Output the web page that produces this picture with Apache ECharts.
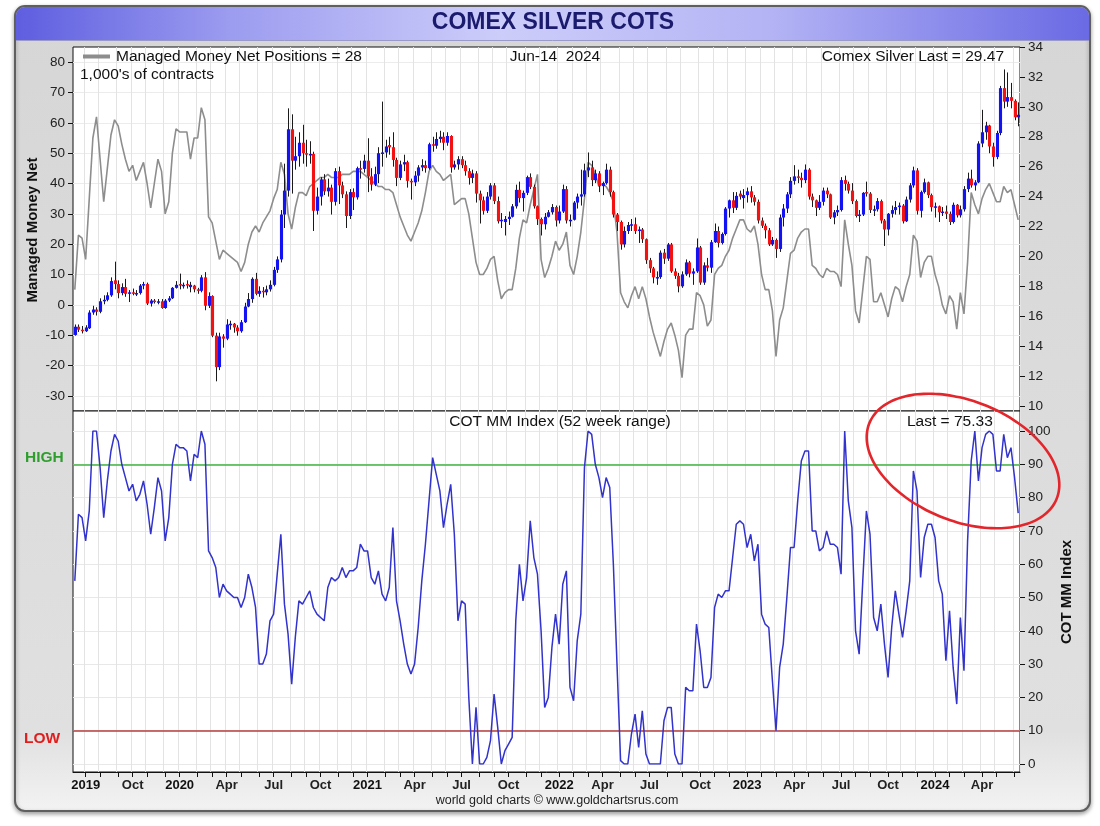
<!DOCTYPE html>
<html><head><meta charset="utf-8">
<script src="https://cdn.jsdelivr.net/npm/echarts@6/dist/echarts.min.js"></script>
<style>html,body{margin:0;padding:0;background:#fff;}#c{width:1100px;height:826px;}</style>
</head><body><div id="c"></div>
<script>
// ---------- data (weekly, first week ending 2019-06-14) ----------
const firstWeekUTC = Date.UTC(2019, 5, 14);
const MONTHS = ['Jan','Feb','Mar','Apr','May','Jun','Jul','Aug','Sep','Oct','Nov','Dec'];

// Managed money net positions, 1,000's of contracts (left axis, grey line)
const mmNet = [
 5,23,22,15,35,55,62,48,34,45,
 56,61,59,53,48,44,46,41,44,47,
 40,32,40,48,44,30,34,50,58,57,
 57,57,48,55,55,65,61,29,27,21,
 15,18,17,16,15,14,11,14,20,24,
 26,24,27,29,31,35,38,47,43,30,
 25,32,37,37,36,39,40,41,42,42,
 43,42,42,42,43,43,43,44,44,44,
 43,42,41,40,39,39,38,38,37,33,
 29,26,23,21,24,27,31,37,44,46,
 44,43,41,42,43,33,34,35,35,30,
 22,14,10,10,12,15,16,8,2,4,
 5,5,12,22,28,27,33,38,43,15,
 9,12,16,21,18,20,24,13,10,16,
 24,35,47,46,43,39,40,39,37,34,
 24,4,1,-1,3,6,2,6,2,-4,
 -9,-13,-17,-12,-8,-6,-10,-15,-24,-10,
 -8,-8,4,3,0,-7,-5,10,12,13,
 16,18,22,25,28,28,25,24,26,20,
 10,5,5,-2,-17,-5,-1,8,17,18,
 22,24,25,25,13,12,10,9,12,11,
 11,10,6,28,20,13,-2,-6,5,16,
 15,1,1,4,0,-4,2,6,5,1,
 6,10,23,21,9,14,16,16,10,6,
 0,-3,3,1,-8,4,-3,14,37,33,
 30,35,38,40,37,34,34,39,37,38,
 33,28
];

// COT managed-money index, 52 week range (bottom panel)
const cotIndex = [
 55,75,74,67,76,100,100,89,74,85,
 94,99,97,90,86,82,84,79,81,85,
 78,69,77,86,82,67,74,90,96,95,
 95,94,85,93,92,100,96,64,62,59,
 50,54,52,51,50,50,47,50,57,53,
 47,30,30,33,43,45,57,69,48,39,
 24,38,49,48,50,52,47,45,44,43,
 53,56,55,56,59,56,58,58,59,66,
 64,64,56,54,58,51,49,53,71,49,
 43,36,30,27,30,41,55,66,79,92,
 87,82,71,78,84,69,43,49,48,20,
 0,17,0,0,2,7,21,11,0,4,
 6,8,43,60,49,56,73,62,57,40,
 17,20,35,45,36,54,58,23,19,37,
 45,89,100,99,90,86,80,86,83,60,
 30,1,0,0,9,15,5,16,3,0,
 0,0,0,13,17,17,3,0,0,23,
 22,22,42,34,23,23,26,47,51,50,
 52,52,62,72,73,72,65,69,61,66,
 45,42,41,25,10,29,36,50,65,65,
 79,91,94,94,70,70,64,65,70,66,
 66,65,57,100,79,71,40,33,55,76,
 69,44,40,48,36,26,41,52,45,38,
 46,55,88,82,56,68,72,72,68,55,
 51,31,46,29,18,44,28,67,91,100,
 85,95,99,100,99,88,88,99,92,95,
 86,75.33
];

// Comex silver weekly candles [open, close, low, high] (right axis)
const silverOHLC = [
[14.75,15.30,14.70,15.45],[15.30,15.10,14.95,15.45],[15.10,15.00,14.85,15.35],[15.00,15.25,14.95,15.40],[15.20,16.25,15.15,16.40],
[16.25,16.45,16.10,16.70],[16.45,16.30,16.05,16.60],[16.30,17.00,16.20,17.20],[17.00,17.10,16.80,17.40],[17.10,17.40,17.00,17.60],
[17.40,18.35,17.30,18.60],[18.40,18.15,17.80,19.65],[18.15,17.55,17.20,18.40],[17.55,17.95,17.40,18.20],[17.95,17.50,17.30,18.50],
[17.50,17.60,16.95,17.75],[17.60,17.55,17.40,17.85],[17.50,17.55,17.35,17.75],[17.55,18.05,17.45,18.15],[18.05,18.15,17.80,18.30],
[18.15,16.85,16.75,18.25],[16.85,17.05,16.65,17.15],[17.05,16.95,16.85,17.15],[16.95,17.00,16.80,17.15],[17.00,16.55,16.50,17.15],
[16.55,17.05,16.50,17.15],[17.05,17.20,16.95,17.35],[17.20,17.90,17.15,17.95],[17.90,18.10,17.85,18.35],[18.15,18.05,17.80,18.85],
[18.00,18.10,17.85,18.25],[18.15,18.05,17.85,18.40],[17.95,18.10,17.60,18.30],[18.05,17.80,17.60,18.10],[17.80,17.70,17.50,17.90],
[17.70,18.60,17.60,18.75],[18.60,16.70,16.40,18.95],[16.70,17.35,16.55,17.60],[17.35,14.70,14.60,17.40],[14.70,12.60,11.65,14.90],
[12.60,14.65,12.40,14.90],[14.65,14.50,13.90,14.80],[14.50,15.45,14.40,15.80],[15.45,15.50,15.10,15.70],[15.50,15.25,14.90,15.55],
[15.25,15.00,14.70,15.40],[15.00,15.60,14.90,15.75],[15.60,16.65,15.55,16.90],[16.65,17.15,16.60,17.55],[17.15,18.50,16.90,18.60],
[18.50,17.50,17.40,18.90],[17.50,17.70,17.30,18.00],[17.70,17.60,17.25,17.95],[17.60,17.80,17.40,18.05],[17.80,18.10,17.65,18.40],
[18.10,19.10,18.00,19.30],[19.10,19.80,18.90,20.00],[19.80,22.80,19.60,23.10],[22.80,24.40,21.90,26.20],[24.40,28.50,24.00,29.90],
[28.50,26.40,24.20,29.50],[26.40,26.70,25.80,28.00],[26.70,27.60,26.00,28.30],[27.60,26.90,26.20,28.80],[26.90,26.80,26.00,27.80],
[26.75,26.85,26.20,27.70],[26.85,23.05,21.70,27.00],[23.05,24.00,22.80,24.60],[24.00,25.15,23.40,25.30],[25.15,24.35,24.10,25.50],
[24.35,24.60,24.00,25.20],[24.60,23.65,22.80,24.80],[23.65,25.70,23.40,25.90],[25.70,24.75,23.50,26.00],[24.75,24.15,23.90,25.00],
[24.15,22.70,21.90,24.35],[22.70,24.30,22.50,24.50],[24.30,23.95,23.10,24.55],[23.95,25.90,23.80,26.00],[25.90,25.85,25.20,26.40],
[25.85,26.40,25.60,26.80],[26.40,25.35,24.30,27.90],[25.35,24.80,24.40,25.90],[24.80,25.50,24.70,26.00],[25.50,26.90,24.90,27.30],
[26.90,26.95,26.00,30.35],[26.95,27.35,26.60,27.80],[27.45,27.30,26.80,28.00],[27.30,26.45,26.00,28.30],[26.45,25.25,24.70,26.60],
[25.25,26.15,25.10,26.40],[26.15,26.30,25.70,26.80],[26.30,25.05,24.60,26.40],[25.05,24.95,23.80,25.20],[24.95,25.40,24.70,25.70],
[25.40,25.95,25.00,26.10],[25.95,26.10,25.70,26.50],[26.10,25.90,25.60,26.40],[25.90,27.50,25.80,27.60],[27.50,27.40,27.00,28.00],
[27.40,27.85,27.20,28.30],[27.85,28.00,27.60,28.40],[28.00,27.60,27.10,28.30],[27.60,28.05,27.40,28.30],[28.05,25.95,25.60,28.10],
[25.95,26.15,25.80,26.40],[26.15,26.50,25.80,26.70],[26.50,26.10,25.90,26.70],[26.10,25.70,25.40,26.40],[25.70,25.25,24.80,25.90],
[25.25,25.55,24.90,25.80],[25.55,24.20,23.60,25.70],[24.20,23.75,22.20,24.40],[23.75,23.05,22.80,24.00],[23.05,24.00,22.90,24.30],
[24.00,24.75,23.80,24.90],[24.75,23.70,23.50,24.90],[23.70,22.35,22.20,24.00],[22.35,22.45,21.90,22.90],[22.30,22.50,21.40,22.70],
[22.50,22.65,22.10,23.00],[22.65,23.35,22.60,23.50],[23.35,24.45,23.20,24.80],[24.45,23.90,23.60,25.00],[23.90,24.25,23.00,24.40],
[24.25,25.30,24.10,25.40],[25.30,24.65,24.50,25.55],[24.65,23.35,23.20,24.80],[23.35,22.50,22.10,23.40],[22.50,22.15,21.40,22.60],
[22.15,22.65,21.80,22.90],[22.65,22.95,22.60,23.10],[22.95,23.30,22.80,23.50],[23.30,22.40,22.00,23.40],[22.40,23.00,22.20,23.40],
[23.00,24.50,22.90,24.80],[24.50,22.40,22.20,24.70],[22.40,22.45,22.00,22.80],[22.45,23.60,22.40,23.70],[23.60,24.00,23.20,24.20],
[24.00,24.15,23.40,25.80],[24.15,25.75,24.00,26.20],[25.75,25.95,25.30,26.95],[25.95,25.10,24.70,26.40],[25.10,25.55,24.90,25.80],
[25.55,24.70,24.30,25.70],[24.70,24.90,24.10,25.00],[24.90,25.80,24.80,26.20],[25.80,24.30,24.00,26.00],[24.30,22.80,22.60,24.40],
[22.80,22.30,21.70,22.90],[22.30,20.80,20.45,22.40],[20.80,21.70,20.60,22.00],[21.70,22.10,21.50,22.30],[22.10,22.15,21.70,22.50],
[22.15,21.70,21.50,22.60],[21.70,21.80,20.90,22.00],[21.80,21.15,20.90,21.90],[21.15,19.75,19.50,21.20],[19.75,19.20,18.90,19.90],
[19.20,18.60,18.20,19.30],[18.55,18.62,18.10,19.00],[18.62,20.25,18.50,20.40],[20.25,19.85,19.50,20.50],[19.85,20.80,19.70,20.90],
[20.80,19.00,18.90,20.90],[19.00,18.70,18.50,19.20],[18.70,18.00,17.60,18.90],[18.00,18.80,17.90,19.00],[18.80,19.60,18.70,19.80],
[19.60,18.85,18.60,19.70],[18.85,19.00,18.10,19.20],[19.00,20.60,18.90,21.20],[20.60,18.25,18.10,20.70],[18.25,19.40,18.10,19.60],
[19.40,19.25,19.00,19.90],[19.25,20.95,18.90,21.10],[20.95,21.70,20.90,22.20],[21.70,20.90,20.60,22.00],[20.90,21.50,20.80,21.60],
[21.50,23.20,21.40,23.30],[23.20,23.75,22.60,23.80],[23.75,23.25,22.90,24.30],[23.25,24.05,23.10,24.30],[24.20,24.00,23.80,24.40],
[23.90,24.10,23.20,24.50],[24.10,24.35,23.60,24.60],[24.35,23.95,23.60,24.70],[23.95,23.65,23.40,24.10],[23.65,22.40,22.20,23.80],
[22.40,22.05,21.90,22.60],[22.05,21.75,21.20,22.20],[21.75,20.80,20.70,21.90],[20.80,21.10,20.70,21.30],[21.10,20.50,19.90,21.20],
[20.50,22.60,20.30,22.80],[22.60,23.20,22.00,23.50],[23.20,24.15,22.90,24.30],[24.15,25.05,23.90,25.30],[25.05,25.35,24.80,26.10],
[25.35,25.25,24.90,25.80],[25.25,25.10,24.60,25.60],[25.10,25.80,24.90,26.15],[25.80,24.00,23.80,25.90],[24.00,23.75,23.30,24.20],
[23.75,23.25,22.70,23.80],[23.25,23.65,23.10,24.10],[23.65,24.40,23.40,24.60],[24.40,24.15,23.90,24.60],[24.15,22.60,22.50,24.20],
[22.60,22.95,22.15,23.10],[22.95,23.10,22.70,23.40],[23.10,25.10,23.00,25.30],[25.10,24.85,24.40,25.40],[24.85,24.40,24.20,25.00],
[24.40,23.70,23.50,24.90],[23.70,22.70,22.60,23.80],[22.70,22.80,22.30,23.10],[22.80,24.25,22.70,24.30],[24.30,24.20,24.00,25.00],
[24.20,23.10,22.90,24.30],[23.10,23.15,22.70,23.40],[23.15,23.70,23.00,23.90],[23.70,22.40,22.20,23.80],[22.40,21.80,20.70,22.50],
[21.80,22.85,21.40,22.90],[22.85,23.10,22.60,23.40],[23.10,23.30,22.80,23.70],[23.30,23.40,22.80,23.60],[23.40,22.35,22.20,23.50],
[22.35,23.80,22.30,24.00],[23.80,24.75,23.60,24.90],[24.75,25.75,24.60,26.00],[25.75,23.05,22.80,25.90],[23.05,24.30,22.60,24.40],
[24.30,24.95,24.20,25.20],[24.95,24.10,23.90,25.00],[24.10,23.30,23.00,24.20],[23.30,23.35,22.60,23.60],[23.35,22.95,22.30,23.40],
[22.95,23.00,22.70,23.30],[23.00,22.85,22.50,23.40],[22.85,22.30,22.10,23.00],[22.30,23.45,22.20,23.60],[23.45,22.75,22.60,23.50],
[22.75,23.15,22.60,23.40],[23.15,24.50,23.00,24.70],[24.50,25.20,24.30,25.60],[25.20,24.75,24.60,25.80],[24.75,24.95,24.40,25.10],
[24.95,27.55,24.90,27.70],[27.55,28.30,27.30,29.80],[28.30,28.75,27.80,29.00],[28.75,27.35,26.90,28.80],[27.35,26.65,26.00,27.60],
[26.65,28.25,26.50,28.40],[28.25,31.25,28.10,31.40],[31.25,30.35,29.90,32.50],[30.35,30.65,30.00,32.30],[30.65,30.40,29.90,31.60],
[30.40,29.30,29.10,30.50],[29.30,29.47,28.70,30.30]
];

const leftTicks = [-30,-20,-10,0,10,20,30,40,50,60,70,80];
const highLevel = 90, lowLevel = 10;

// ---------- derived categories ----------
const dates = [];
for (let i = 0; i < silverOHLC.length; i++) dates.push(new Date(firstWeekUTC + i * 7 * 864e5).toISOString().slice(0, 10));
const dayOf = s => +s.slice(8, 10), monOf = s => +s.slice(5, 7), yearOf = s => s.slice(0, 4);
const isMonthStart = i => dayOf(dates[i]) <= 7;
const isQuarterStart = i => isMonthStart(i) && (monOf(dates[i]) - 1) % 3 === 0;
const firstQ = dates.findIndex((d, i) => isQuarterStart(i));
const candleData = silverOHLC.map((d, i) => [i, d[0], d[1], d[2], d[3]]);
const lastDate = new Date(firstWeekUTC + (dates.length - 1) * 7 * 864e5);

const FONT = '"Liberation Sans", Arial, Helvetica, sans-serif';
const GL = 73, GW = 947;

// ellipse annotation (decoration)
const ellPts = [];
(function () {
  const cx = 963, cy = 461, a = 101, b = 60, th = 22 * Math.PI / 180;
  for (let k = 0; k <= 90; k++) {
    const t = -2.2 + k / 90 * 2 * Math.PI * 1.03;
    ellPts.push([cx + a * Math.cos(t) * Math.cos(th) - b * Math.sin(t) * Math.sin(th),
                 cy + a * Math.cos(t) * Math.sin(th) + b * Math.sin(t) * Math.cos(th)]);
  }
})();

const chart = echarts.init(document.getElementById('c'), null, {renderer: 'canvas'});
const hiddenX = (gi) => ({type: 'category', gridIndex: gi, data: dates, boundaryGap: true, show: false});

chart.setOption({
  animation: false,
  backgroundColor: '#ffffff',
  textStyle: {fontFamily: FONT},
  grid: [
    {left: GL, width: GW, top: 47, height: 364, show: true, backgroundColor: '#ffffff', borderColor: '#111', borderWidth: 1, outerBoundsMode: 'none', containLabel: false},
    {left: GL, width: GW, top: 47, height: 359, show: false, outerBoundsMode: 'none', containLabel: false},
    {left: GL, width: GW, top: 411, height: 361, show: true, backgroundColor: '#ffffff', borderColor: '#111', borderWidth: 1, outerBoundsMode: 'none', containLabel: false},
    {left: GL, width: GW, top: 431, height: 333, show: false, outerBoundsMode: 'none', containLabel: false}
  ],
  xAxis: [
    {type: 'category', gridIndex: 0, data: dates, boundaryGap: true,
     axisLine: {show: false}, axisTick: {show: false}, axisLabel: {show: false},
     splitLine: {show: true, interval: (i) => isMonthStart(i), lineStyle: {color: '#e3e3e3', width: 1}}},
    hiddenX(1),
    {type: 'category', gridIndex: 2, data: dates, boundaryGap: true,
     axisLine: {show: true, lineStyle: {color: '#111', width: 1}},
     axisTick: {show: true, alignWithLabel: true, interval: (i) => isMonthStart(i), length: 5, lineStyle: {color: '#111'}},
     axisLabel: {show: true, interval: (i) => isQuarterStart(i), margin: 7, color: '#111', fontSize: 13, fontWeight: 'bold', fontFamily: FONT,
       formatter: (v, idx) => {
         const m = monOf(v);
         if (m === 1 || idx === firstQ) return '{y|' + yearOf(v) + '}';
         return '{m|' + MONTHS[m - 1] + '}';
       },
       rich: {y: {fontWeight: 'bold', fontSize: 13, color: '#111', fontFamily: FONT}, m: {fontWeight: 'bold', fontSize: 13, color: '#222', fontFamily: FONT}}},
     splitLine: {show: true, interval: (i) => isMonthStart(i), lineStyle: {color: '#e3e3e3', width: 1}}},
    hiddenX(3)
  ],
  yAxis: [
    {type: 'value', gridIndex: 0, position: 'left', min: -35, max: 85, interval: 5,
     axisLine: {show: false},
     axisTick: {show: true, customValues: leftTicks, length: 5, lineStyle: {color: '#111'}},
     axisLabel: {show: true, customValues: leftTicks, margin: 8, color: '#222', fontSize: 13.5, fontFamily: FONT,
       formatter: (v) => (v % 10 === 0 ? String(v) : '')},
     splitLine: {show: true, lineStyle: {color: '#ececec', width: 1}}},
    {type: 'value', gridIndex: 1, position: 'right', min: 10, max: 34, interval: 2,
     axisLine: {show: false},
     axisTick: {show: true, length: 5, lineStyle: {color: '#111'}},
     axisLabel: {show: true, margin: 8, color: '#222', fontSize: 13.5, fontFamily: FONT},
     splitLine: {show: false}},
    {type: 'value', gridIndex: 2, min: 0, max: 1, show: false, splitLine: {show: false}},
    {type: 'value', gridIndex: 3, position: 'right', min: 0, max: 100, interval: 10,
     axisLine: {show: false},
     axisTick: {show: true, length: 5, lineStyle: {color: '#111'}},
     axisLabel: {show: true, margin: 8, color: '#222', fontSize: 13.5, fontFamily: FONT},
     splitLine: {show: true, lineStyle: {color: '#e8e8e8', width: 1}}}
  ],
  series: [
    {name: 'Managed Money Net Positions', type: 'line', xAxisIndex: 0, yAxisIndex: 0, data: mmNet,
     symbol: 'none', z: 2, lineStyle: {color: '#8d8d8d', width: 1.6}, itemStyle: {color: '#8d8d8d'}},
    {name: 'Comex Silver', type: 'custom', xAxisIndex: 1, yAxisIndex: 1, data: candleData, z: 3,
     encode: {x: 0, y: [1, 2, 3, 4]},
     renderItem: function (params, api) {
       const i = api.value(0), o = api.value(1), c = api.value(2), l = api.value(3), h = api.value(4);
       const pO = api.coord([i, o]), pC = api.coord([i, c]), pL = api.coord([i, l]), pH = api.coord([i, h]);
       const band = api.size([1, 0])[0];
       const w = Math.max(2, band * 0.86);
       const x = Math.round(pO[0]) + 0.5;
       const top = Math.min(pO[1], pC[1]);
       const hgt = Math.max(1.5, Math.abs(pO[1] - pC[1]));
       return {type: 'group', children: [
         {type: 'line', shape: {x1: x, y1: pL[1], x2: x, y2: pH[1]}, style: {stroke: '#1a1a1a', lineWidth: 1}},
         {type: 'rect', shape: {x: x - w / 2, y: top, width: w, height: hgt}, style: {fill: c >= o ? '#1212f2' : '#f21212'}}
       ]};
     }},
    {name: 'COT MM Index', type: 'line', xAxisIndex: 3, yAxisIndex: 3, data: cotIndex,
     symbol: 'none', z: 3, lineStyle: {color: '#3232cc', width: 1.5}, itemStyle: {color: '#3232cc'},
     markLine: {silent: true, z: 1, symbol: ['none', 'none'], label: {show: false},
       data: [
         {yAxis: highLevel, lineStyle: {color: '#3fb43f', width: 1.5, type: 'solid'}},
         {yAxis: lowLevel, lineStyle: {color: '#b83c3c', width: 1.5, type: 'solid'}}
       ]}}
  ],
  graphic: [
    {type: 'rect', z: -1, shape: {x: 15, y: 6, width: 1075, height: 805, r: 10},
     style: {fill: {type: 'linear', x: 0, y: 0, x2: 0, y2: 1, colorStops: [
       {offset: 0, color: '#d6d6d6'}, {offset: 0.9, color: '#e0e0e0'}, {offset: 1, color: '#f3f3f3'}]},
       stroke: '#5f5f5f', lineWidth: 2, shadowBlur: 4, shadowColor: 'rgba(0,0,0,0.35)', shadowOffsetY: 2}},
    {type: 'rect', z: -1, shape: {x: 16, y: 7, width: 1073, height: 33, r: [9, 9, 0, 0]},
     style: {fill: {type: 'linear', x: 0, y: 0, x2: 1, y2: 0, colorStops: [
       {offset: 0, color: '#5e5ee0'}, {offset: 0.2, color: '#9c9cf0'}, {offset: 0.45, color: '#cdcdfa'},
       {offset: 0.7, color: '#b4b4f5'}, {offset: 1, color: '#6a6ae4'}]}}},
    {type: 'line', z: -1, shape: {x1: 16, y1: 40.5, x2: 1089, y2: 40.5}, style: {stroke: '#9a9ac8', lineWidth: 1}},
    {type: 'text', z: 20, x: 553, y: 23, style: {text: 'COMEX SILVER COTS', fill: '#1b1b6e',
      font: 'bold 23px ' + FONT, align: 'center', verticalAlign: 'middle', textAlign: 'center', textVerticalAlign: 'middle'}},
    // top panel legend / notes
    {type: 'line', z: 20, shape: {x1: 83, y1: 56.5, x2: 110, y2: 56.5}, style: {stroke: '#8d8d8d', lineWidth: 4}},
    {type: 'text', z: 20, x: 116, y: 57, style: {text: 'Managed Money Net Positions = ' + mmNet[mmNet.length - 1], fill: '#111',
      font: '15.5px ' + FONT, align: 'left', verticalAlign: 'middle', textAlign: 'left', textVerticalAlign: 'middle'}},
    {type: 'text', z: 20, x: 80, y: 75, style: {text: "1,000's of contracts", fill: '#111',
      font: '15.5px ' + FONT, align: 'left', verticalAlign: 'middle', textAlign: 'left', textVerticalAlign: 'middle'}},
    {type: 'text', z: 20, x: 555, y: 57, style: {text: 'Jun-' + String(lastDate.getUTCDate()).padStart(2, '0') + '  ' + lastDate.getUTCFullYear(), fill: '#111',
      font: '15.5px ' + FONT, align: 'center', verticalAlign: 'middle', textAlign: 'center', textVerticalAlign: 'middle'}},
    {type: 'text', z: 20, x: 1004, y: 57, style: {text: 'Comex Silver Last = ' + silverOHLC[silverOHLC.length - 1][1].toFixed(2), fill: '#111',
      font: '15.5px ' + FONT, align: 'right', verticalAlign: 'middle', textAlign: 'right', textVerticalAlign: 'middle'}},
    {type: 'text', z: 20, x: 560, y: 422, style: {text: 'COT MM Index (52 week range)', fill: '#111',
      font: '15.5px ' + FONT, align: 'center', verticalAlign: 'middle', textAlign: 'center', textVerticalAlign: 'middle'}},
    {type: 'text', z: 20, x: 907, y: 422, style: {text: 'Last = ' + cotIndex[cotIndex.length - 1].toFixed(2), fill: '#111',
      font: '15.5px ' + FONT, align: 'left', verticalAlign: 'middle', textAlign: 'left', textVerticalAlign: 'middle'}},
    {type: 'text', z: 20, x: 25, y: 458, style: {text: 'HIGH', fill: '#2f9e2f',
      font: 'bold 15.5px ' + FONT, align: 'left', verticalAlign: 'middle', textAlign: 'left', textVerticalAlign: 'middle'}},
    {type: 'text', z: 20, x: 24, y: 739, style: {text: 'LOW', fill: '#e01e1e',
      font: 'bold 15.5px ' + FONT, align: 'left', verticalAlign: 'middle', textAlign: 'left', textVerticalAlign: 'middle'}},
    {type: 'text', z: 20, x: 33, y: 230, rotation: Math.PI / 2, style: {text: 'Managed Money Net', fill: '#111',
      font: 'bold 15px ' + FONT, align: 'center', verticalAlign: 'middle', textAlign: 'center', textVerticalAlign: 'middle'}},
    {type: 'text', z: 20, x: 1067, y: 592, rotation: Math.PI / 2, style: {text: 'COT MM Index', fill: '#111',
      font: 'bold 15px ' + FONT, align: 'center', verticalAlign: 'middle', textAlign: 'center', textVerticalAlign: 'middle'}},
    {type: 'text', z: 20, x: 557, y: 801, style: {text: 'world gold charts \u00a9 www.goldchartsrus.com', fill: '#222',
      font: '12.5px ' + FONT, align: 'center', verticalAlign: 'middle', textAlign: 'center', textVerticalAlign: 'middle'}},
    // red hand-drawn annotation loop
    {type: 'polyline', z: 30, shape: {points: ellPts, smooth: 0.3}, style: {stroke: '#e3262b', lineWidth: 2.6, fill: null}}
  ]
});
</script></body></html>
